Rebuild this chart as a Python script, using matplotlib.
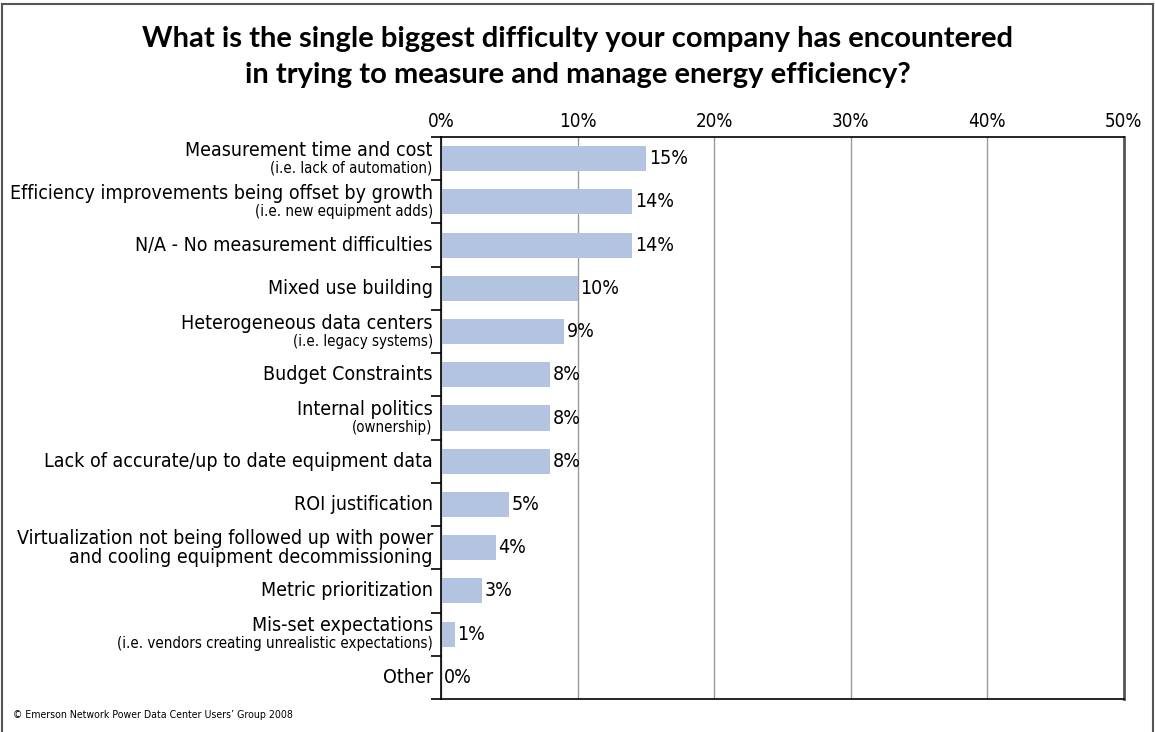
import numpy as np
import matplotlib.pyplot as plt
from matplotlib.lines import Line2D
import matplotlib.transforms as mtransforms

# Survey answers, top to bottom
main_labels = [
    'Measurement time and cost',
    'Efficiency improvements being offset by growth',
    'N/A - No measurement difficulties',
    'Mixed use building',
    'Heterogeneous data centers',
    'Budget Constraints',
    'Internal politics',
    'Lack of accurate/up to date equipment data',
    'ROI justification',
    'Virtualization not being followed up with power\nand cooling equipment decommissioning',
    'Metric prioritization',
    'Mis-set expectations',
    'Other',
]
sub_labels = [
    '(i.e. lack of automation)',
    '(i.e. new equipment adds)',
    '',
    '',
    '(i.e. legacy systems)',
    '',
    '(ownership)',
    '',
    '',
    '',
    '',
    '(i.e. vendors creating unrealistic expectations)',
    '',
]
percents = [15, 14, 14, 10, 9, 8, 8, 8, 5, 4, 3, 1, 0]
x_ticks = [0, 10, 20, 30, 40, 50]

lab = dict(family='DejaVu Sans', stretch='condensed')
title_font = ['Lato', 'DejaVu Sans']

fig = plt.figure(figsize=(11.55, 7.32), dpi=100)
ax = fig.add_axes([0.3818, 0.0451, 0.5913, 0.7677])

n = len(percents)
y = np.arange(n)
ax.barh(y, percents, height=0.58, color='#b3c4e1', zorder=2)

ax.set_xlim(0, 50)
ax.set_ylim(n - 0.5, -0.5)

# Percent axis on top
ax.xaxis.tick_top()
ax.set_xticks(x_ticks)
ax.set_xticklabels([f'{t}%' for t in x_ticks], fontsize=13.5, **lab)
ax.tick_params(axis='x', length=0, pad=4)
ax.grid(axis='x', color='#9a9a9a', linewidth=1, zorder=1)

# Category ticks sit between rows
ax.set_yticks(y)
ax.set_yticklabels([])
ax.tick_params(axis='y', which='major', length=0)
ax.set_yticks(np.arange(n + 1) - 0.5, minor=True)
ax.tick_params(axis='y', which='minor', length=7, width=1.2, color='black')

for side in ['left', 'top', 'bottom']:
    ax.spines[side].set_color('black')
    ax.spines[side].set_linewidth(1.2)
ax.spines['right'].set_color('#555555')
ax.spines['right'].set_linewidth(2)

# Row labels
trans = mtransforms.blended_transform_factory(ax.transAxes, ax.transData)
for yi, main, sub in zip(y, main_labels, sub_labels):
    if sub:
        ax.text(-0.012, yi, main, transform=trans + mtransforms.ScaledTranslation(0, 6 / 72, fig.dpi_scale_trans),
                ha='right', va='center', fontsize=14, **lab)
        ax.text(-0.012, yi, sub, transform=trans + mtransforms.ScaledTranslation(0, -7 / 72, fig.dpi_scale_trans),
                ha='right', va='center', fontsize=10.8, **lab)
    else:
        ax.text(-0.012, yi, main, transform=trans, ha='right', va='center',
                fontsize=14, linespacing=1.0, **lab)

# Value labels
for yi, v in zip(y, percents):
    ax.annotate(f'{v}%', (v, yi), xytext=(2, 0), textcoords='offset points',
                ha='left', va='center', fontsize=14, **lab)

fig.text(0.5, 0.922, 'What is the single biggest difficulty your company has encountered\n'
         'in trying to measure and manage energy efficiency?',
         ha='center', va='center', fontsize=21, fontweight='bold', family=title_font, linespacing=1.5)

fig.text(0.011, 0.023, '\u00a9 Emerson Network Power Data Center Users\u2019 Group 2008',
         ha='left', va='center', fontsize=7.6, **lab)

# Outer frame (open at the bottom)
frame = dict(color='#555555', linewidth=1.5, transform=fig.transFigure)
fig.add_artist(Line2D([0.002, 0.002], [0, 0.995], **frame))
fig.add_artist(Line2D([0.002, 0.998], [0.995, 0.995], **frame))
fig.add_artist(Line2D([0.998, 0.998], [0, 0.995], **frame))

fig.savefig('out.png', dpi=100)
